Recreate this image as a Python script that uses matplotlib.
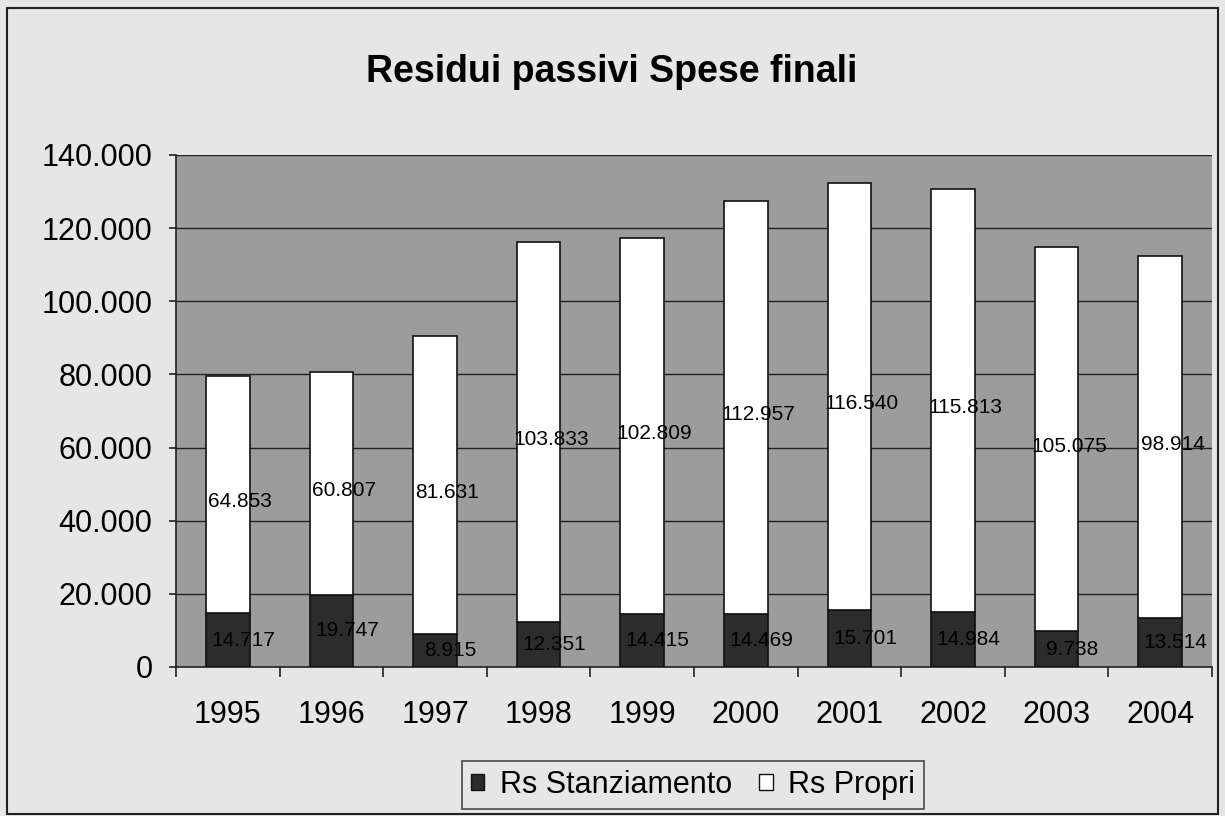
import matplotlib
matplotlib.use("Agg")
import matplotlib.pyplot as plt
from matplotlib.patches import Rectangle, Patch
from matplotlib.ticker import FuncFormatter

years = ["1995", "1996", "1997", "1998", "1999", "2000", "2001", "2002", "2003", "2004"]
rs_stanziamento = [14717, 19747, 8915, 12351, 14415, 14469, 15701, 14984, 9738, 13514]
rs_propri = [64853, 60807, 81631, 103833, 102809, 112957, 116540, 115813, 105075, 98914]
stanz_labels = ["14.717", "19.747", "8.915", "12.351", "14.415", "14.469", "15.701", "14.984", "9.738", "13.514"]
propri_labels = ["64.853", "60.807", "81.631", "103.833", "102.809", "112.957", "116.540", "115.813", "105.075", "98.914"]
yticks = [0, 20000, 40000, 60000, 80000, 100000, 120000, 140000]

plt.rcParams['font.family'] = ['Liberation Sans', 'DejaVu Sans']

fig = plt.figure(figsize=(12.25, 8.16), dpi=100)
fig.patch.set_facecolor('#e6e6e6')
fig.patches.append(Rectangle((7/1225, 2/816), 1211/1225, 806/816, transform=fig.transFigure,
                             fill=False, edgecolor='#222222', linewidth=1.5))

ax = fig.add_axes([176/1225, 1-667/816, 1036/1225, 512/816])
ax.set_facecolor('#9c9c9c')
x = list(range(len(years)))
w = 0.42
ax.bar(x, rs_stanziamento, width=w, color='#2c2c2c', edgecolor='#111111', linewidth=1.2, zorder=3)
ax.bar(x, rs_propri, width=w, bottom=rs_stanziamento, color='white', edgecolor='#111111', linewidth=1.2, zorder=3)

for i in x:
    ax.text(i + 0.15, rs_stanziamento[i] / 2, stanz_labels[i], ha='center', va='center',
            fontsize=15, color='black', zorder=4)
    ax.text(i + 0.12, rs_stanziamento[i] + rs_propri[i] / 2 - 2000, propri_labels[i], ha='center', va='center',
            fontsize=15, color='black', zorder=4)

ax.set_xlim(-0.5, len(years) - 0.5)
ax.set_ylim(0, 140000)
ax.set_yticks(yticks)
ax.yaxis.set_major_formatter(FuncFormatter(lambda v, p: f"{int(v):,}".replace(",", ".")))
ax.yaxis.grid(True, color='#222222', linewidth=1, zorder=1)
ax.set_axisbelow(True)
ax.set_xticks([i + 0.5 for i in x[:-1]] + [-0.5, len(years) - 0.5])
ax.set_xticklabels([])
ax.set_xticks(x, minor=True)
ax.set_xticklabels(years, minor=True)
ax.tick_params(axis='x', which='major', length=7, width=1.2, direction='out', color='#222222')
ax.tick_params(axis='x', which='minor', length=0, labelsize=22, pad=24)
ax.tick_params(axis='y', length=5, width=1.2, direction='out', labelsize=22, pad=12, color='#222222')
for s in ['top', 'right']:
    ax.spines[s].set_visible(False)
ax.spines['left'].set_color('#222222')
ax.spines['bottom'].set_color('#222222')
ax.spines['left'].set_linewidth(1.2)
ax.spines['bottom'].set_linewidth(1.2)

fig.text(612/1225, 1-72/816, "Residui passivi Spese finali", ha='center', va='center',
         fontsize=27, fontweight='bold')

handles = [Patch(facecolor='#2c2c2c', edgecolor='#111111', label='Rs Stanziamento'),
           Patch(facecolor='white', edgecolor='#111111', label='Rs Propri')]
leg = fig.legend(handles=handles, loc='center', bbox_to_anchor=(693/1225, 1-785/816), ncol=2,
                 fontsize=22, frameon=True, fancybox=False, edgecolor='#222222',
                 handlelength=0.45, handleheight=0.45, handletextpad=0.5, columnspacing=0.9,
                 borderpad=0.3, borderaxespad=0.0, facecolor='#e6e6e6')
leg.get_frame().set_linewidth(1.2)

fig.savefig("out.png", dpi=100, facecolor=fig.get_facecolor())
